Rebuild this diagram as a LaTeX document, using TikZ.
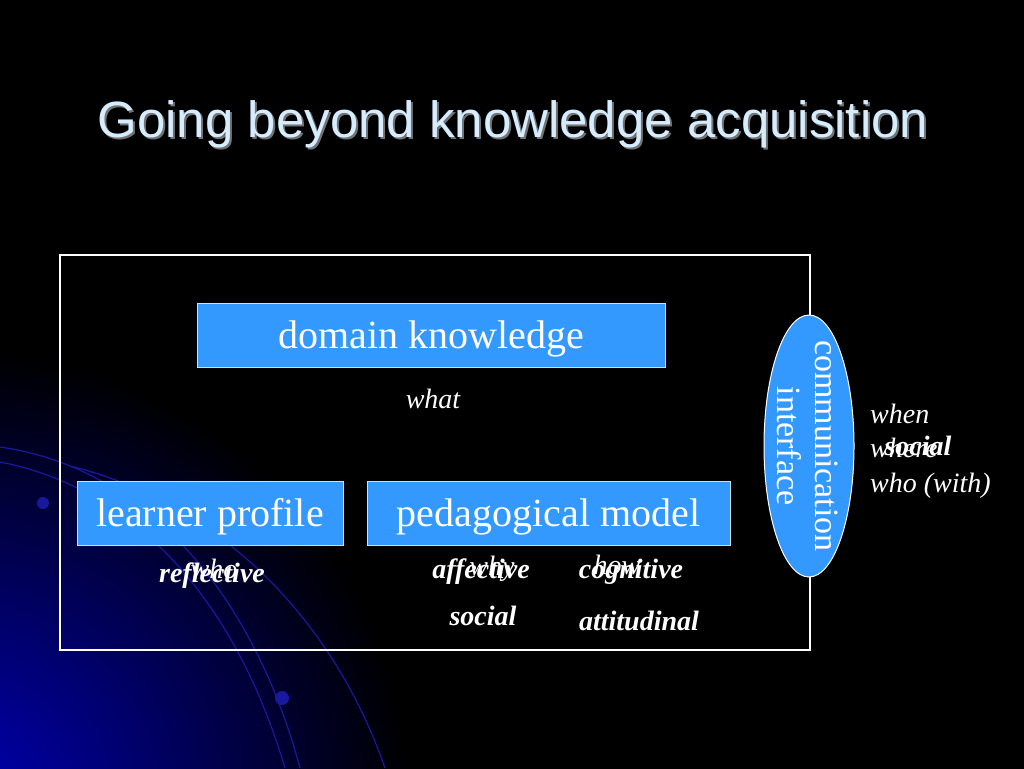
\documentclass[tikz,border=0pt]{standalone}
\usepackage{fontspec}
\setmainfont{Liberation Serif}
\newfontfamily\titlefont{Liberation Sans}
\usetikzlibrary{shapes.geometric}
\definecolor{boxblue}{RGB}{51,153,255}
\definecolor{boxedge}{RGB}{200,225,255}
\definecolor{titlecol}{RGB}{214,236,255}
\definecolor{glow}{RGB}{0,0,180}
\definecolor{arccol}{RGB}{25,25,160}
\begin{document}
\begin{tikzpicture}[x=1pt,y=-1pt,
  bluebox/.style={draw=boxedge, fill=boxblue, line width=1pt, text=white, inner sep=0pt,
    font=\fontsize{40}{48}\selectfont, minimum height=64pt, text height=27pt, text depth=0pt},
  lab/.style={text=white, inner sep=0pt, anchor=base, font=\itshape\fontsize{28}{34}\selectfont},
  blab/.style={text=white, inner sep=0pt, anchor=base, font=\bfseries\itshape\fontsize{28}{34}\selectfont},
  vlab/.style={text=white, inner sep=0pt, anchor=base, rotate=-90, font=\fontsize{34}{38}\selectfont}]
\useasboundingbox (0,0) rectangle (1024,768);
\fill[black] (-4,-4) rectangle (1028,772);
\begin{scope}
  \clip (0,0) rectangle (1024,768);
  \fill[inner color=glow, outer color=black] (-40,800) circle (450pt);
  \draw[arccol, line width=1.2pt] (0,447) .. controls (150,468) and (255,600) .. (300,768);
  \draw[arccol, line width=1.2pt] (0,462) .. controls (135,488) and (235,600) .. (285,768);
  \draw[arccol, line width=1.2pt] (70,466) .. controls (210,500) and (330,610) .. (385,768);
  \fill[arccol] (43,503) circle (6pt);
  \fill[arccol] (282,698) circle (7pt);
\end{scope}
% title
\node[anchor=base, text=black!55!white, font=\titlefont\fontsize{51}{60}\selectfont] (titleshadow) at (515,139) {Going beyond knowledge acquisition};
\node[anchor=base, text=titlecol, font=\titlefont\fontsize{51}{60}\selectfont] (title) at (513,137) {Going beyond knowledge acquisition};
% frame
\node[draw=white, line width=2.5pt, minimum width=750pt, minimum height=395pt, inner sep=0pt] (frame) at (435,452.5) {};
% boxes
\node[bluebox, minimum width=468pt] (domain) at (431,335) {domain knowledge};
\node[bluebox, minimum width=266pt] (learner) at (210,513) {learner profile};
\node[bluebox, minimum width=363pt] (pedagogy) at (548.5,513) {pedagogical model};
% ellipse
\node[ellipse, draw=white, line width=1pt, fill=boxblue, minimum width=90pt, minimum height=262pt, inner sep=0pt] (iface) at (809,446) {};
\node[vlab] (comm) at (815,446) {communication};
\node[vlab] (interf) at (777,446) {interface};
% labels
\node[lab] (what) at (433,408) {what};
\node[lab, anchor=base west] (when) at (870,423) {when};
\node[lab, anchor=base west] (where) at (870,457) {where};
\node[lab, anchor=base west] (whowith) at (870,492) {who (with)};
\node[blab] (socialr) at (918,455) {social};
\node[lab] (who) at (214,578) {who};
\node[blab] (reflective) at (212,582) {reflective};
\node[lab] (why) at (492,575) {why};
\node[blab] (affective) at (481,578) {affective};
\node[lab] (how) at (617,574) {how};
\node[blab] (cognitive) at (631,578) {cognitive};
\node[blab] (social) at (483,625) {social};
\node[blab] (attitudinal) at (639,630) {attitudinal};
\end{tikzpicture}
\end{document}
